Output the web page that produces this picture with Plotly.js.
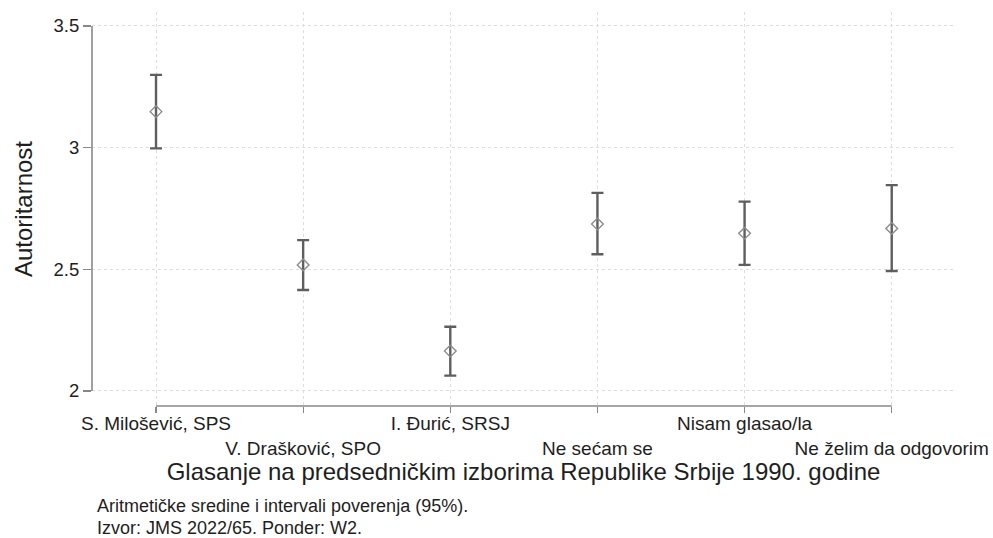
<!DOCTYPE html>
<html>
<head>
<meta charset="utf-8">
<script src="https://cdn.plot.ly/plotly-3.0.1.min.js"></script>
<style>html,body{margin:0;padding:0;background:#fff;}#chart{width:993px;height:538px;}</style>
</head>
<body>
<div id="chart"></div>
<script>
const categories = ["S. Milošević, SPS", "V. Drašković, SPO", "I. Đurić, SRSJ", "Ne sećam se", "Nisam glasao/la", "Ne želim da odgovorim"];
const means = [3.148, 2.518, 2.164, 2.686, 2.648, 2.668];
const upper = [3.299, 2.620, 2.264, 2.814, 2.778, 2.846];
const lower = [2.997, 2.415, 2.063, 2.562, 2.518, 2.493];
const yTicks = [2, 2.5, 3, 3.5];
const yTickLabels = ["2", "2.5", "3", "3.5"];
const xTitle = "Glasanje na predsedničkim izborima Republike Srbije 1990. godine";
const yTitle = "Autoritarnost";
const notes = ["Aritmetičke sredine i intervali poverenja (95%).", "Izvor: JMS 2022/65. Ponder: W2."];

const xIdx = categories.map((c, i) => i);
const errPlus = upper.map((u, i) => u - means[i]);
const errMinus = lower.map((l, i) => means[i] - l);
const tickText = categories.map((c, i) => i % 2 === 0 ? c : " <br>" + c);

const font = "Liberation Sans, Arial, sans-serif";

const trace = {
  type: "scatter",
  mode: "markers",
  x: xIdx,
  y: means,
  marker: {symbol: "diamond-open", size: 9, color: "#8c8c8c", line: {width: 1.4, color: "#8c8c8c"}},
  error_y: {type: "data", symmetric: false, array: errPlus, arrayminus: errMinus, color: "#5e5e5e", thickness: 2.4, width: 6},
  hoverinfo: "x+y"
};

const layout = {
  width: 993, height: 538,
  margin: {l: 92, r: 38, t: 12, b: 132},
  paper_bgcolor: "#fff", plot_bgcolor: "#fff",
  showlegend: false,
  font: {family: font, color: "#1e1e1e"},
  xaxis: {
    range: [-0.435, 5.43],
    tickmode: "array", tickvals: xIdx, ticktext: tickText,
    tickangle: 0,
    ticks: "outside", ticklen: 6, tickwidth: 1.2, tickcolor: "#888",
    ticklabelstandoff: -6,
    tickfont: {size: 19, color: "#1e1e1e"},
    showline: false, zeroline: false,
    showgrid: true, gridcolor: "#dedede", griddash: "dot", gridwidth: 1,
    title: {text: xTitle, font: {size: 24, color: "#1e1e1e"}, standoff: 0},
    automargin: false
  },
  yaxis: {
    range: [1.938, 3.5575],
    tickmode: "array", tickvals: yTicks, ticktext: yTickLabels,
    ticks: "outside", ticklen: 8, tickwidth: 1.2, tickcolor: "#888",
    tickfont: {size: 18.5, color: "#1e1e1e"},
    showline: false, zeroline: false,
    showgrid: true, gridcolor: "#dedede", griddash: "dot", gridwidth: 1,
    title: {text: yTitle, font: {size: 24, color: "#1e1e1e"}, standoff: 14},
    automargin: false
  },
  shapes: [
    {type: "line", xref: "paper", yref: "y", x0: 0, x1: 0, y0: yTicks[0], y1: yTicks[yTicks.length - 1], line: {color: "#888", width: 1.6}},
    {type: "line", xref: "x", yref: "paper", x0: xIdx[0], x1: xIdx[xIdx.length - 1], y0: 0, y1: 0, line: {color: "#888", width: 1.6}}
  ],
  annotations: [
    {text: notes[0], xref: "paper", yref: "paper", x: 0.005, y: -0.2538, xanchor: "left", yanchor: "middle", showarrow: false, borderpad: 0, font: {size: 18, color: "#1e1e1e"}},
    {text: notes[1], xref: "paper", yref: "paper", x: 0.005, y: -0.3096, xanchor: "left", yanchor: "middle", showarrow: false, borderpad: 0, font: {size: 18, color: "#1e1e1e"}}
  ]
};

Plotly.newPlot("chart", [trace], layout, {displayModeBar: false, staticPlot: true});
</script>
</body>
</html>
